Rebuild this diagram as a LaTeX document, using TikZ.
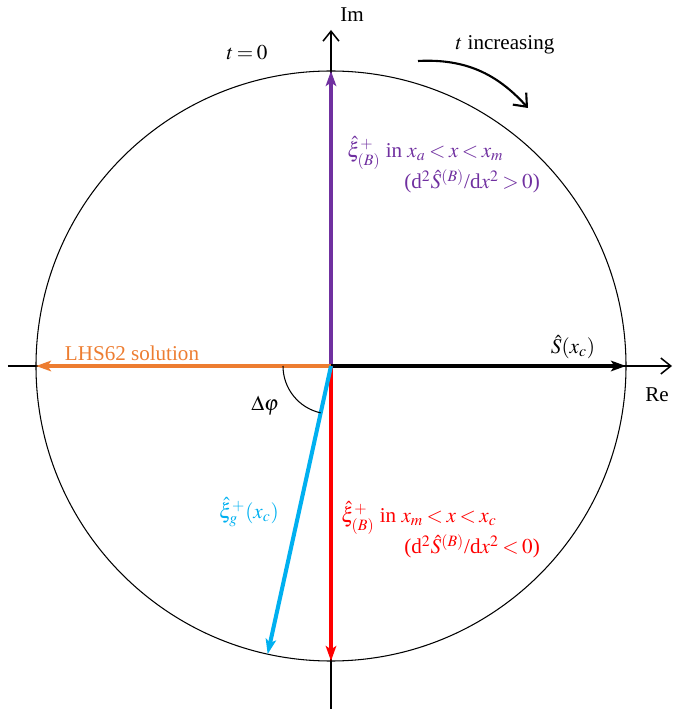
\documentclass[tikz,border=0pt]{standalone}
\usepackage{mathptmx}
\usepackage{fontspec}
\setmainfont{Liberation Serif}
\usepackage{tikz}
\usetikzlibrary{arrows.meta}
\definecolor{vpurple}{RGB}{112,48,160}
\definecolor{vorange}{RGB}{237,125,49}
\definecolor{vred}{RGB}{255,0,0}
\definecolor{vblue}{RGB}{0,176,240}
\tikzset{
    axis/.style={-{Straight Barb[length=2mm,width=3.2mm]}, line width=0.85pt},
    vec/.style={-{Stealth[length=3mm,width=2.1mm,inset=0.7mm]}, line width=2.3pt},
    lbl/.style={inner sep=0pt},
    twoline/.style={lbl, align=left, anchor=west, font=\fontsize{12}{18}\selectfont}
}
\thickmuskip=3mu plus 2mu

\begin{document}
\begin{tikzpicture}[x=0.02cm, y=0.02cm, font=\fontsize{12}{14}\selectfont]
\useasboundingbox (-331,-343) rectangle (342,366);

\coordinate (O) at (0,0);
\coordinate (top) at (90:295);
\coordinate (bot) at (270:295);
\coordinate (lft) at (180:295);
\coordinate (rgt) at (0:295);
\coordinate (gend) at (257.6:295);
\coordinate (xa) at (-323,0);
\coordinate (xb) at (341,0);
\coordinate (ya) at (0,-343);
\coordinate (yb) at (0,336);
\coordinate (ca) at (87,305);
\coordinate (cb) at (197,258);

\draw[line width=0.6pt] (O) circle[radius=295];
\draw[axis] (xa) -- (xb);
\draw[axis] (ya) -- (yb);

% phase vectors
\draw[vec, vpurple] (O) -- (top);
\draw[vec, vorange] (O) -- (lft);
\draw[vec, black] (O) -- (rgt);
\draw[vec, vred] (O) -- (bot);
\draw[vec, vblue] (O) -- (gend);

\draw[line width=0.6pt] (O) ++(180:48) arc[start angle=180, end angle=257.6, radius=48];
\draw[-{Straight Barb[length=2.2mm,width=3.6mm]}, line width=1.2pt] (ca) to[out=3, in=132] (cb);

\node[lbl] (im) at (21,351) {Im};
\node[lbl] (re) at (326,-29) {Re};
\node[lbl] (tzero) at (-84,313) {$t=0$};
\node[lbl] (tinc) at (174,321) {$t$ increasing};
\node[lbl] (dphi) at (-66,-40) {$\Delta\varphi$};
\node[lbl, vorange] (lhs) at (-199,13) {LHS62 solution};
\node[lbl] (shat) at (242,19) {$\hat{S}(x_c)$};
\node[twoline, vpurple] (pl) at (16,201)
    {$\hat{\xi}^{+}_{(B)}$ in $x_a<x<x_m$\\\hspace*{1.14cm}(d$^2\hat{S}^{(B)}$/d$x^2>0$)};
\node[twoline, vred] (rl) at (10,-164)
    {$\hat{\xi}^{+}_{(B)}$ in $x_m<x<x_c$\\\hspace*{1.26cm}(d$^2\hat{S}^{(B)}$/d$x^2<0$)};
\node[lbl, vblue] (gl) at (-82,-146) {$\hat{\xi}^{+}_{g}(x_c)$};
\end{tikzpicture}
\end{document}
